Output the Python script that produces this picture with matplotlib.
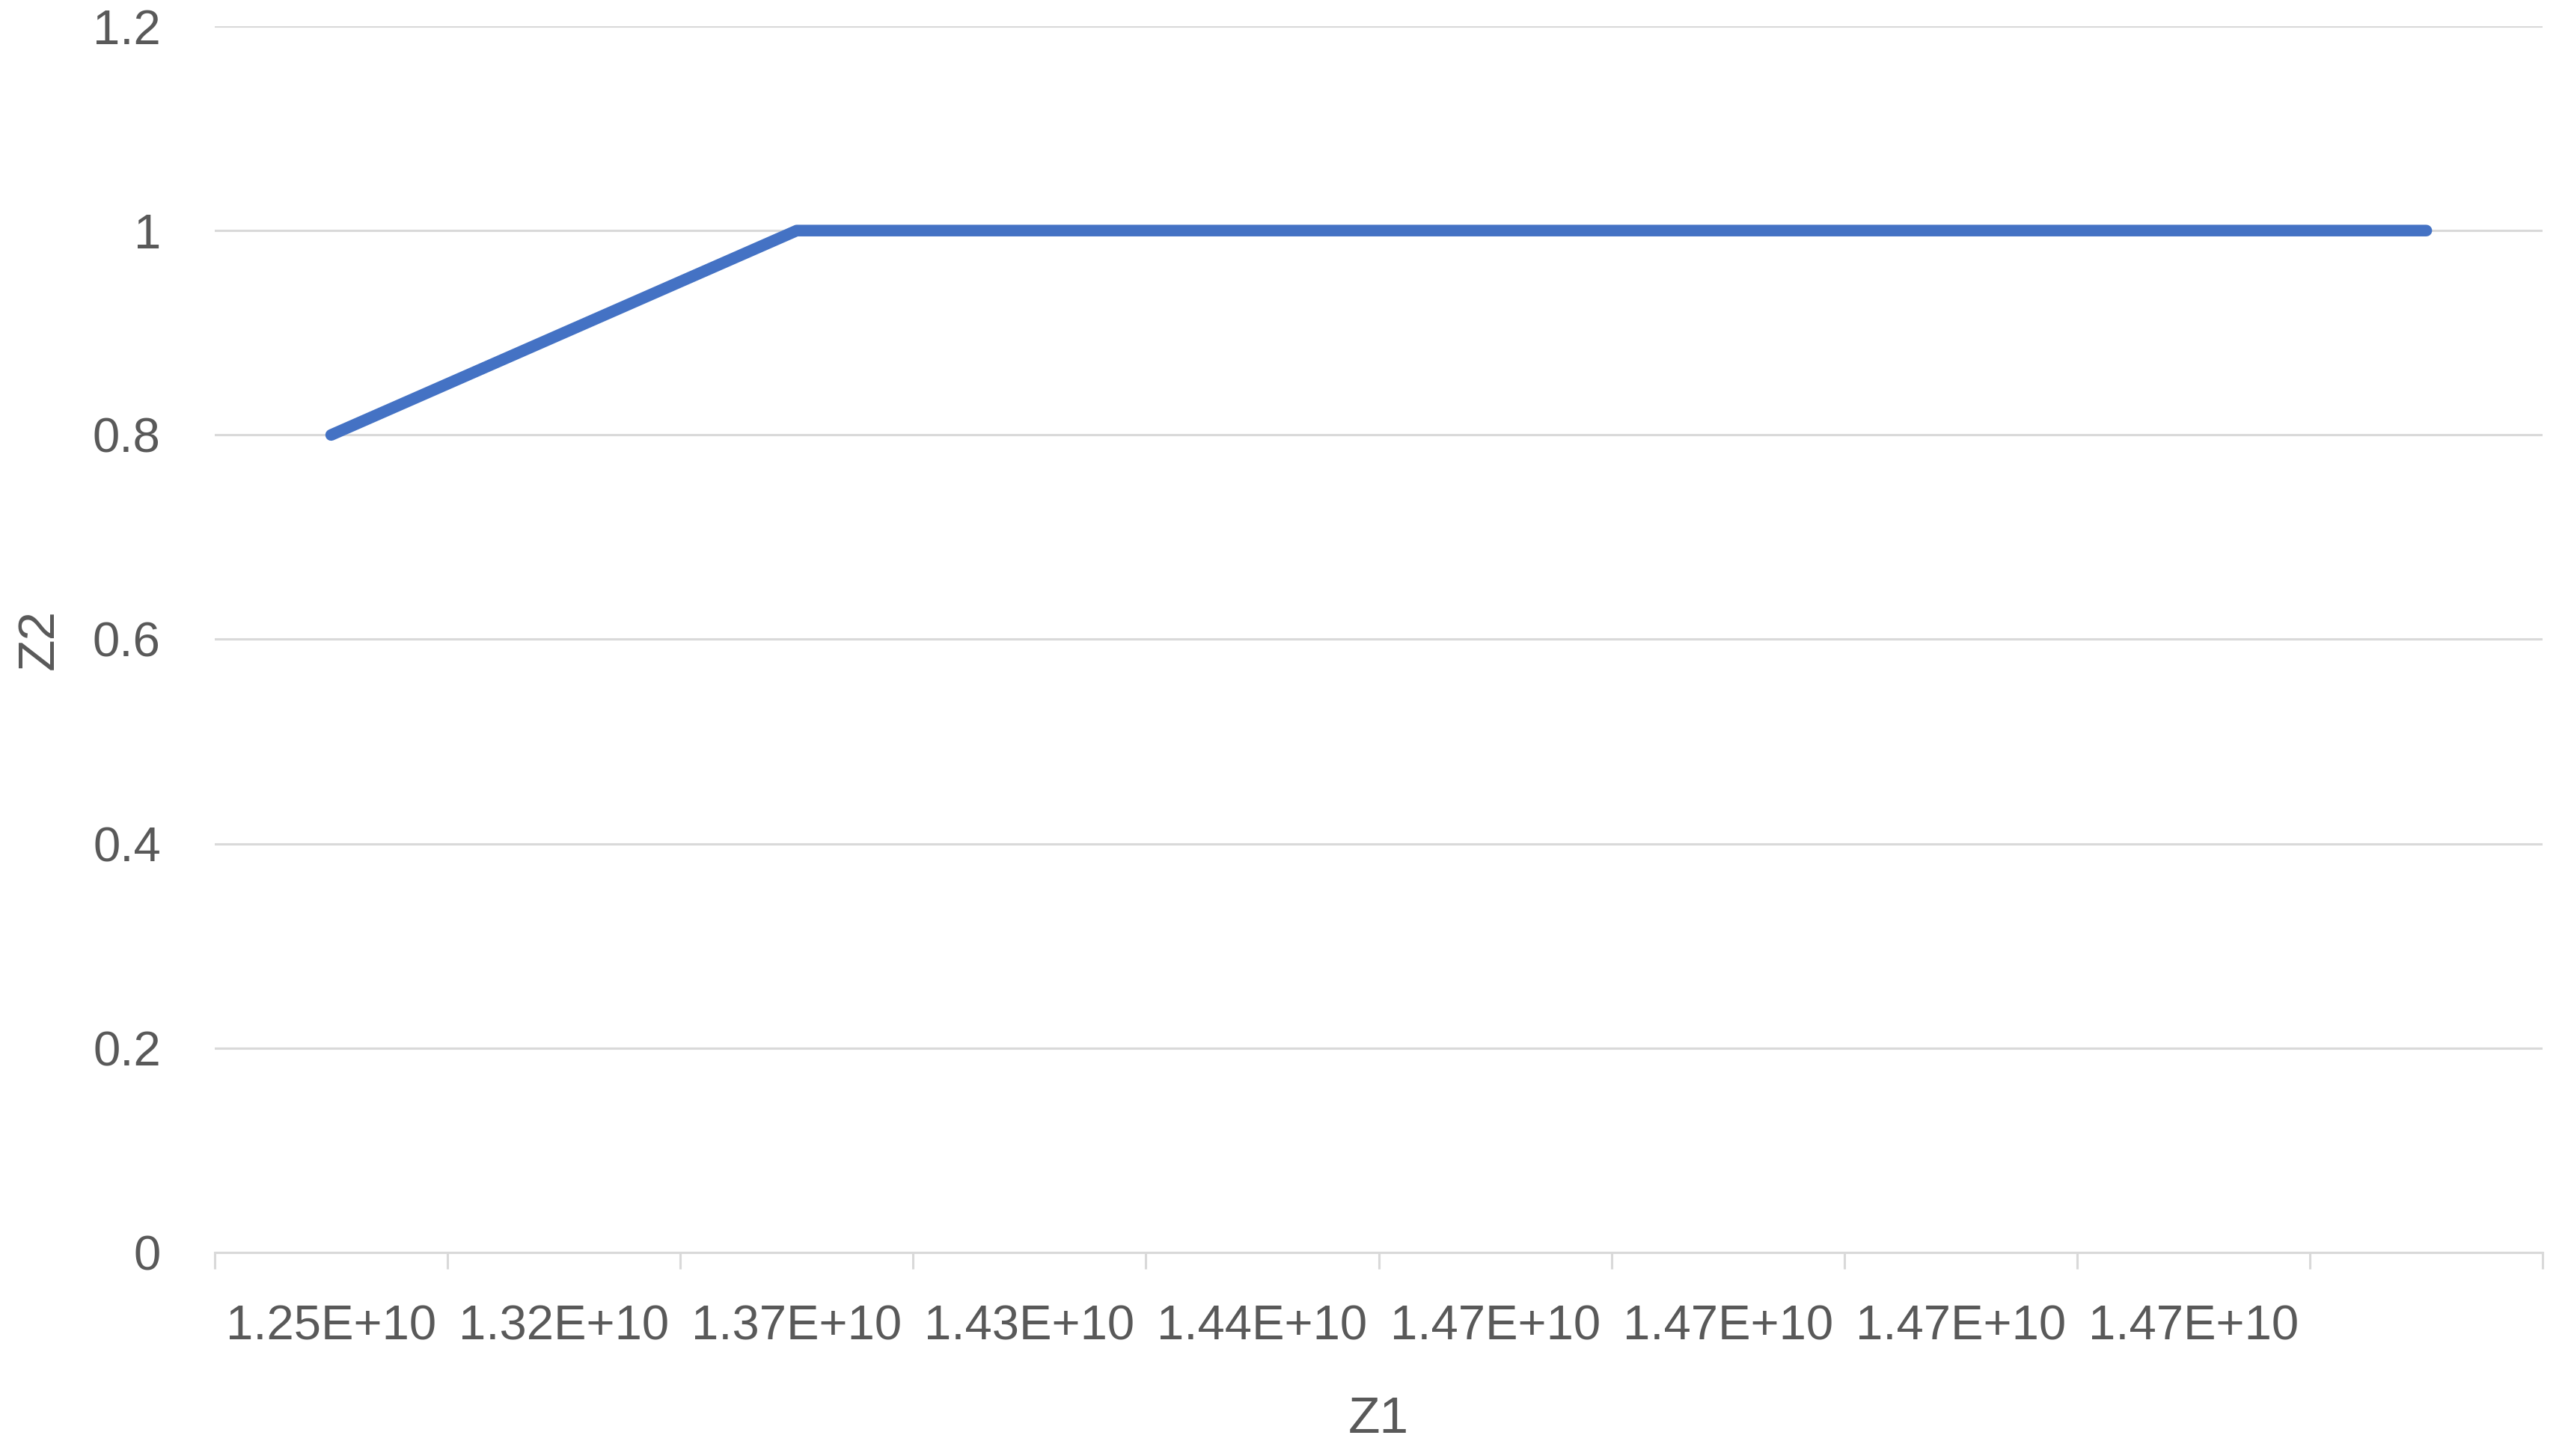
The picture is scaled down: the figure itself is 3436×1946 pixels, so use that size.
import matplotlib.pyplot as plt
from matplotlib.ticker import FixedLocator

categories = ["1.25E+10", "1.32E+10", "1.37E+10", "1.43E+10", "1.44E+10",
              "1.47E+10", "1.47E+10", "1.47E+10", "1.47E+10", ""]
z2 = [0.8, 0.9, 1, 1, 1, 1, 1, 1, 1, 1]
yticks = [0, 0.2, 0.4, 0.6, 0.8, 1, 1.2]
ylabels = ["0", "0.2", "0.4", "0.6", "0.8", "1", "1.2"]

plt.rcParams['font.family'] = ['Liberation Sans', 'DejaVu Sans']
grey = "#595959"

fig = plt.figure(figsize=(17.185, 9.73), dpi=200)
ax = fig.add_axes([0.0835, 0.1398, 0.9052, 0.8422])

x = list(range(len(categories)))
ax.plot(x, z2, color="#4472C4", linewidth=5.6, solid_capstyle="round", zorder=3)

ax.set_xlim(-0.5, len(categories) - 0.5)
ax.set_ylim(0, 1.2)
ax.set_yticks(yticks)
ax.set_yticklabels(ylabels)
ax.set_xticks(x)
ax.set_xticklabels(categories)
ax.xaxis.set_minor_locator(FixedLocator([i - 0.5 for i in range(len(categories) + 1)]))

ax.grid(axis="y", color="#D9D9D9", linewidth=1.1, zorder=0)
for s in ["top", "right", "left"]:
    ax.spines[s].set_visible(False)
ax.spines["bottom"].set_color("#D9D9D9")
ax.spines["bottom"].set_linewidth(1.1)

ax.tick_params(axis="x", which="major", length=0, pad=25, labelsize=23.5, labelcolor=grey)
ax.tick_params(axis="x", which="minor", length=8, width=1.1, color="#D9D9D9")
ax.tick_params(axis="y", length=0, pad=26, labelsize=23.5, labelcolor=grey)

ax.set_xlabel("Z1", fontsize=25, color=grey, labelpad=22)
ax.set_ylabel("Z2", fontsize=25, color=grey, labelpad=14)

fig.savefig("out.png", dpi=200)
